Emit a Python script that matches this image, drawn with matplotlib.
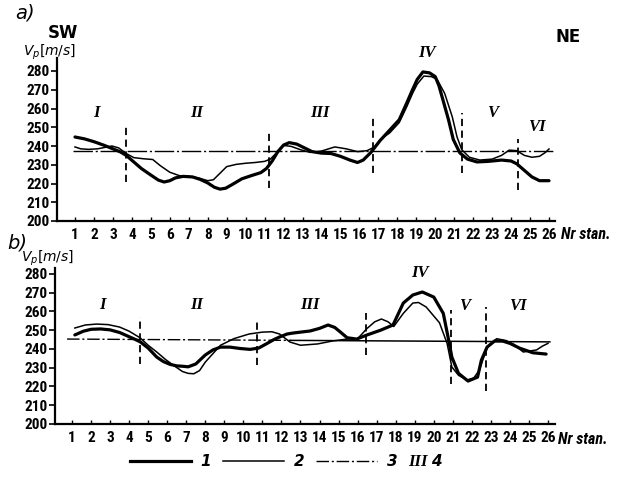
import numpy as np
import matplotlib
matplotlib.use("Agg")
import matplotlib.pyplot as plt
from matplotlib.lines import Line2D
from matplotlib import font_manager

# ---------------- data ----------------
stations = list(range(1, 27))
yticks = [200, 210, 220, 230, 240, 250, 260, 270, 280]

# panel a
a_thick_s = [1, 1.5, 2, 2.5, 3, 3.4, 3.7, 4.1, 4.5, 5, 5.4, 5.7, 6.0, 6.3, 6.7, 7.2, 7.6, 8.0, 8.35, 8.65,
             8.95, 9.3, 9.8, 10.3, 10.8, 11.1, 11.4, 11.7, 12.0, 12.3, 12.7, 13.1, 13.5, 14.0, 14.5, 15.0,
             15.5, 15.9, 16.2, 16.6, 17.1, 17.6, 18.1, 18.5, 18.8, 19.05, 19.35, 19.7, 20.0, 20.2, 20.45,
             20.7, 20.95, 21.3, 21.7, 22.2, 22.8, 23.5, 24.0, 24.3, 24.7, 25.1, 25.5, 26.0]
a_thick_v = [244.8, 243.8, 242.3, 240.5, 238.5, 236.8, 235, 231.5, 228, 224.5, 221.8, 220.8, 221.5, 223,
             223.8, 223.5, 222.2, 220.3, 218, 217, 217.5, 219.5, 222.5, 224.2, 225.8, 228, 232, 237, 240.5,
             241.8, 241, 239, 237, 236.2, 236, 234.5, 232.5, 231.2, 232.5, 236.5, 243, 248.5, 254, 263,
             270, 275.5, 279.5, 279, 277, 272, 263, 254, 243.5, 236.3, 233, 231.5, 231.8, 232.5, 232,
             230.5, 227, 223.5, 221.5, 221.5]
a_thin_s = [1, 1.3, 1.7, 2.2, 2.6, 2.95, 3.3, 3.7, 4.1, 4.6, 5.1, 5.5, 6.0, 6.5, 7.0, 7.5, 8.0, 8.3, 8.65,
            9.0, 9.5, 10.0, 10.5, 11.0, 11.3, 11.6, 12.0, 12.4, 12.9, 13.4, 14.0, 14.7, 15.3, 15.9, 16.4,
            16.8, 17.1, 17.6, 18.1, 18.5, 18.8, 19.05, 19.4, 19.8, 20.1, 20.5, 20.9, 21.15, 21.4, 21.8,
            22.35, 23.0, 23.5, 23.9, 24.3, 24.7, 25.1, 25.5, 25.8, 26.0]
a_thin_v = [239.5, 238.5, 238.2, 238.5, 239.3, 240, 239, 236, 233.8, 233.2, 232.8, 229.5, 226, 224.2,
            223.8, 223, 221.5, 222, 225.5, 229, 230.2, 230.8, 231.2, 231.8, 233, 236, 240.3, 239.8, 238,
            236.6, 237.3, 239.5, 238.5, 237, 237.5, 239.5, 243.5, 247, 252.5, 261, 268, 273, 277.3, 277,
            275.5, 268, 255.5, 244.8, 238, 234, 232.5, 233, 235, 237.8, 237.5, 235, 234, 234.5, 236.5,
            238.4]
a_mean_s = [0.9, 26.2]
a_mean_v = [237.4, 237.4]
a_bound_s = [3.7, 11.25, 16.7, 21.4, 24.35]
a_bound_lo = [221, 217.6, 225.6, 225.6, 216.5]
a_bound_hi = [250, 247.5, 256.5, 257.6, 244]
a_reg_lab = ["I", "II", "III", "IV", "V", "VI"]
a_reg_s = [2.15, 7.4, 13.9, 19.55, 23.05, 25.35]
a_reg_v = [257.6, 257.6, 257.6, 289.6, 257.6, 250]

# panel b
b_thick_s = [1.15, 1.6, 2.0, 2.5, 3.0, 3.5, 3.9, 4.3, 4.6, 5.0, 5.45, 5.8, 6.15, 6.5, 6.8, 7.1, 7.5, 8.0,
             8.4, 8.8, 9.3, 9.8, 10.35, 10.8, 11.2, 11.6, 11.9, 12.3, 12.6, 13.0, 13.5, 14.0, 14.45, 14.8,
             15.1, 15.45, 15.95, 16.5, 17.2, 17.86, 18.4, 18.9, 19.4, 20.0, 20.5, 20.75, 20.95, 21.3,
             21.8, 22.3, 22.5, 22.8, 23.2, 23.6, 24.0, 24.5, 25.2, 25.9]
b_thick_v = [247.5, 249.5, 250.5, 250.7, 250.2, 248.8, 247, 245.2, 243.7, 240.5, 235.7, 233.3, 231.8, 231,
             230.8, 230.5, 232, 236.8, 239.5, 241, 241, 240.3, 239.8, 240.5, 242.7, 245, 246.4, 248,
             248.5, 249, 249.6, 251, 252.8, 251.5, 249, 246, 245.3, 247.5, 250, 252.8, 264.5, 268.8,
             270.4, 267.7, 259, 246.4, 235.7, 227, 222.9, 225, 234, 241, 244.3, 244.3, 243, 240.5, 238,
             237.3]
b_thin_s = [1.15, 1.7, 2.3, 2.9, 3.5, 4.0, 4.57, 5.0, 5.45, 5.9, 6.3, 6.8, 7.1, 7.4, 7.7, 8.0, 8.4, 8.8,
            9.5, 10.3, 11.0, 11.5, 11.9, 12.45, 13.0, 13.9, 14.7, 15.45, 16.0, 16.5, 16.9, 17.25, 17.6,
            17.9, 18.4, 18.9, 19.2, 19.6, 20.3, 20.7, 20.95, 21.3, 21.75, 22.1, 22.4, 22.8, 23.3, 23.8,
            24.2, 24.7, 25.4, 25.7, 26.0]
b_thin_v = [251.2, 252.8, 253.3, 253, 251.7, 249.5, 246, 242, 238.4, 234.5, 231.5, 228, 227, 226.8, 228.5,
            233, 237.5, 242, 245.5, 248, 249, 249.2, 248, 243.7, 242, 242.7, 244.3, 245.3, 245.5, 251,
            254.5, 256, 254.5, 252, 259, 264.5, 264.8, 262.4, 254, 243, 230.4, 226, 223.5, 224.5, 228.8,
            241, 245.5, 244.5, 242.5, 238.4, 239.5, 241.5, 243]
b_mean_s = [0.74, 26.1]
b_mean_v = [245.3, 243.8]
b_mean_split = 12.5
b_bound_s = [4.57, 10.7, 16.45, 20.9, 22.75]
b_bound_lo = [232, 231.5, 236.8, 221.3, 217.6]
b_bound_hi = [257, 256, 259, 260.8, 262.4]
b_reg_lab = ["I", "II", "III", "IV", "V", "VI"]
b_reg_s = [2.6, 7.55, 13.5, 19.3, 21.6, 24.4]
b_reg_v = [263.5, 263.5, 263.5, 280.5, 263, 263]

legend_labels = ["1", "2", "3"]

# ---------------- figure ----------------
W, H = 628, 480
fig = plt.figure(figsize=(W / 100, H / 100), dpi=100)

available = {f.name for f in font_manager.fontManager.ttflist}
narrow = [f for f in ["Liberation Sans Narrow", "DejaVu Sans Condensed", "Roboto Condensed"] if f in available]
NARROW_FAM = narrow + ["DejaVu Sans"]
narrow_found = len(narrow) > 0

TICKFONT = dict(family=NARROW_FAM, weight="bold", size=11 if narrow_found else 8.5)
ROMAN = dict(family=["Liberation Serif", "DejaVu Serif"], style="italic", weight="bold", size=12)

THICK = 2.3
THIN = 1.1
DASHDOT = (0, (9, 2, 1.5, 2))


def fx(px):
    return px / W


def fy(py):
    return 1 - py / H


def setup(ax, xlim, ylim):
    ax.set_xlim(*xlim)
    ax.set_ylim(*ylim)
    for sp in ["top", "right"]:
        ax.spines[sp].set_visible(False)
    for sp in ["left", "bottom"]:
        ax.spines[sp].set_linewidth(1.6)
    ax.set_xticks(stations)
    ax.set_xticklabels([str(s) for s in stations], fontdict=TICKFONT)
    ax.set_yticks(yticks)
    ax.set_yticklabels([str(v) for v in yticks], fontdict=TICKFONT)
    ax.tick_params(axis="x", direction="in", length=3, width=1, pad=5)
    ax.tick_params(axis="y", direction="out", length=4, width=1.2, pad=1)
    ax.patch.set_alpha(0)


# panel a
axa = fig.add_axes([fx(57), fy(221), fx(555 - 57), (221 - 58) / H])
setup(axa, (1 - 18 / 18.96, 1 + 480 / 18.96), (200, 200 + 163 / 1.875))
axa.plot(a_mean_s, a_mean_v, color="black", lw=1.0, linestyle=(0, (14, 2, 1.5, 2)))
axa.plot(a_thin_s, a_thin_v, color="black", lw=THIN, solid_joinstyle="round")
axa.plot(a_thick_s, a_thick_v, color="black", lw=THICK, solid_joinstyle="round", solid_capstyle="round")
axa.vlines(a_bound_s, a_bound_lo, a_bound_hi, colors="black", linestyles=(0, (4, 2.5)), lw=1.3)
for lab, s, v in zip(a_reg_lab, a_reg_s, a_reg_v):
    axa.text(s, v, lab, ha="center", va="center", clip_on=False, **ROMAN)

# panel b
axb = fig.add_axes([fx(55), fy(424), fx(555 - 55), (424 - 268) / H])
setup(axb, (1 - 17 / 19.04, 1 + 483 / 19.04), (200, 200 + 156 / 1.875))
split_v = np.interp(b_mean_split, b_mean_s, b_mean_v)
axb.plot([b_mean_s[0], b_mean_split], [b_mean_v[0], split_v], color="black", lw=1.0, linestyle=DASHDOT)
axb.plot([b_mean_split, b_mean_s[1]], [split_v, b_mean_v[1]], color="black", lw=1.1)
axb.plot(b_thin_s, b_thin_v, color="black", lw=THIN, solid_joinstyle="round")
axb.plot(b_thick_s, b_thick_v, color="black", lw=THICK, solid_joinstyle="round", solid_capstyle="round")
axb.vlines(b_bound_s, b_bound_lo, b_bound_hi, colors="black", linestyles=(0, (4, 2.5)), lw=1.3)
for lab, s, v in zip(b_reg_lab, b_reg_s, b_reg_v):
    axb.text(s, v, lab, ha="center", va="center", clip_on=False, **ROMAN)

# ---------------- annotations ----------------
ital = dict(family=["DejaVu Sans"], style="italic")
fig.text(fx(25), fy(13), "a)", ha="center", va="center", size=14, **ital)
fig.text(fx(17), fy(243), "b)", ha="center", va="center", size=14, **ital)
fig.text(fx(63), fy(33), "SW", ha="center", va="center", size=12, weight="bold", family="DejaVu Sans")
fig.text(fx(568), fy(37), "NE", ha="center", va="center", size=12, weight="bold", family="DejaVu Sans")
fig.text(fx(50), fy(52), r"$V_p$[$m/s$]", ha="center", va="center", size=10)
fig.text(fx(48), fy(258), r"$V_p$[$m/s$]", ha="center", va="center", size=10)
NR = dict(ha="left", va="center", size=11.5 if narrow_found else 9, weight="bold", style="italic",
          family=NARROW_FAM)
fig.text(fx(561), fy(235), "Nr stan.", **NR)
fig.text(fx(558), fy(439), "Nr stan.", **NR)

# legend
handles = [
    Line2D([], [], color="black", lw=THICK),
    Line2D([], [], color="black", lw=THIN),
    Line2D([], [], color="black", lw=1.0, linestyle=DASHDOT),
]
leg = fig.legend(handles, legend_labels, loc="center left", bbox_to_anchor=(fx(130), fy(462)),
                 ncol=3, frameon=False, handlelength=4.0, handletextpad=0.6, columnspacing=0.8,
                 borderpad=0, borderaxespad=0,
                 prop=dict(style="italic", size=11, weight="bold"))
fig.text(fx(408), fy(462), "III", ha="left", va="center", **ROMAN)
fig.text(fx(431), fy(462), "4", ha="left", va="center", size=11, style="italic", weight="bold")

fig.savefig("out.png", dpi=100)
